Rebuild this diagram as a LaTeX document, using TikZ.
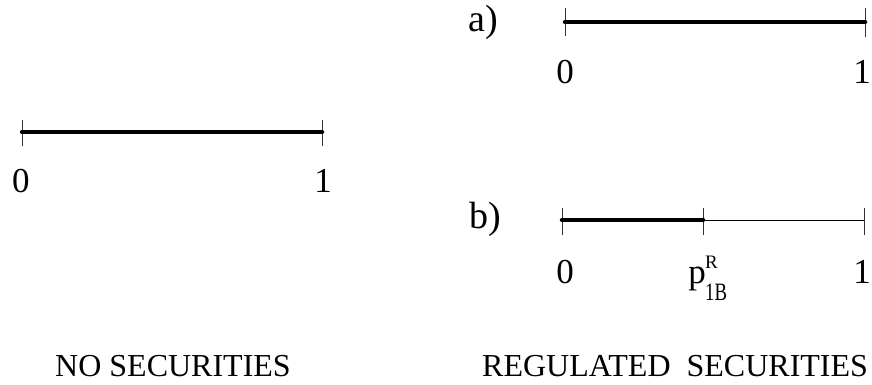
\documentclass[tikz,border=0pt]{standalone}
\usepackage{fontspec}
\setmainfont{Liberation Serif}
\begin{document}
\begin{tikzpicture}[x=1pt,y=-1pt,
  thickseg/.style={line width=4.5pt,line cap=round},
  thinseg/.style={line width=0.9pt},
  tickmark/.style={line width=0.9pt,black!80},
  num/.style={font=\fontsize{35}{40}\selectfont,anchor=base,inner sep=0pt},
  lab/.style={font=\fontsize{38}{44}\selectfont,anchor=base west,inner sep=0pt},
  caption/.style={font=\fontsize{32}{38}\selectfont,anchor=base west,inner sep=0pt}]
\useasboundingbox (0,0) rectangle (872,385);
% left axis
\coordinate (L0) at (22,132);
\coordinate (L1) at (322,132);
\coordinate (L0t) at (22,120); \coordinate (L0b) at (22,146);
\coordinate (L1t) at (322,120); \coordinate (L1b) at (322,146);
\draw[tickmark] (L0t) -- (L0b);
\draw[tickmark] (L1t) -- (L1b);
\draw[thickseg] (L0) -- (L1);
\node[num] (l0) at (21,192) {0};
\node[num] (l1) at (323,192) {1};
% a)
\node[lab] (la) at (468,32) {a)};
\coordinate (A0) at (565,22);
\coordinate (A1) at (865,22);
\coordinate (A0t) at (565,8); \coordinate (A0b) at (565,36);
\coordinate (A1t) at (865,8); \coordinate (A1b) at (865,37);
\draw[tickmark] (A0t) -- (A0b);
\draw[tickmark] (A1t) -- (A1b);
\draw[thickseg] (A0) -- (A1);
\node[num] (a0) at (565,84) {0};
\node[num] (a1) at (862,84) {1};
% b)
\node[lab] (lb) at (469,228) {b)};
\coordinate (B0) at (562,220);
\coordinate (Bp) at (703,220);
\coordinate (B1) at (864,220);
\coordinate (B0t) at (562,208); \coordinate (B0b) at (562,235);
\coordinate (Bpt) at (703,208); \coordinate (Bpb) at (703,235);
\coordinate (B1t) at (864,208); \coordinate (B1b) at (864,235);
\draw[tickmark] (B0t) -- (B0b);
\draw[tickmark] (Bpt) -- (Bpb);
\draw[tickmark] (B1t) -- (B1b);
\draw[thinseg] (Bp) -- (B1);
\draw[thickseg] (B0) -- (Bp);
\node[num] (b0) at (565,283) {0};
\node[num] (b1) at (862,283) {1};
\node[num,anchor=base east] (bp) at (706,283) {p};
\node[anchor=base west,inner sep=0pt,font=\fontsize{19}{22}\selectfont] (bR) at (705,268) {R};
\node[anchor=base west,inner sep=0pt,font=\fontsize{25}{28}\selectfont,xscale=0.75] (bsub) at (705,300) {1B};
% captions
\node[caption] (c1) at (55,376) {NO SECURITIES};
\node[caption] (c2) at (482,376) {REGULATED\ \ SECURITIES};
\end{tikzpicture}
\end{document}
